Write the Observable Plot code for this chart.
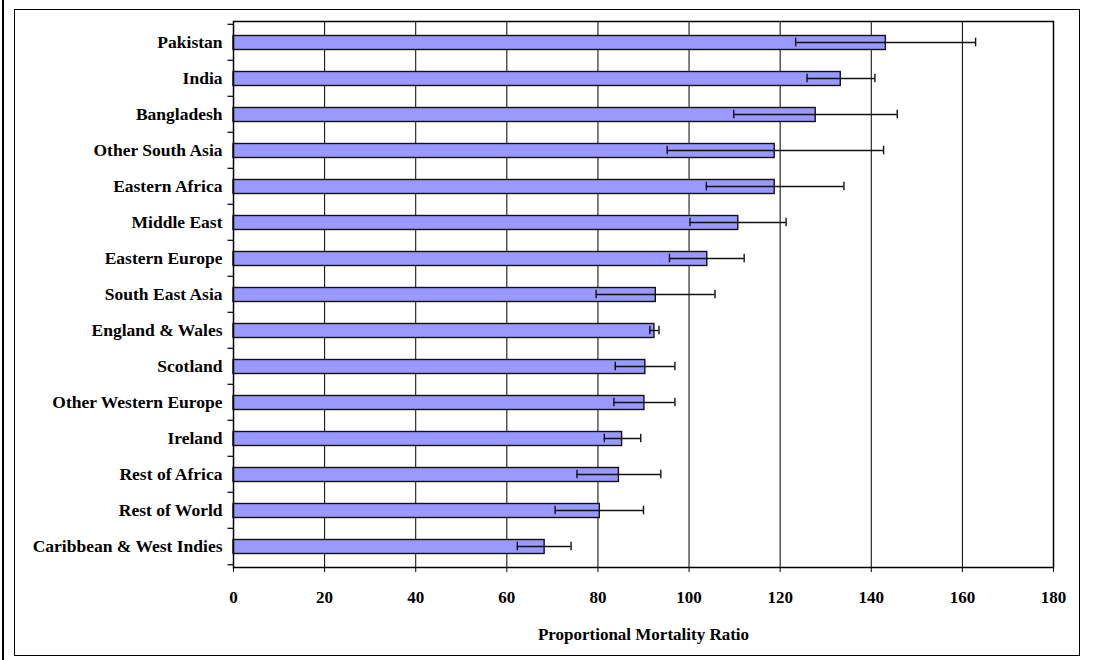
<!DOCTYPE html>
<html>
<head>
<meta charset="utf-8">
<script src="https://cdn.jsdelivr.net/npm/d3@7"></script>
<script src="https://cdn.jsdelivr.net/npm/@observablehq/plot@0.6"></script>
<style>
  html, body { margin: 0; padding: 0; background: #fff; }
  body { width: 1101px; height: 660px; position: relative; overflow: hidden; font-family: "Liberation Serif", "Times New Roman", serif; }
  #pageline { position: absolute; left: 2px; top: 0; width: 2px; height: 660px; background: #000; }
  #frame { position: absolute; left: 14px; top: 9px; width: 1066px; height: 647px; border: 1.5px solid #000; box-sizing: border-box; }
  #chart { position: absolute; left: 15px; top: 10px; }
  #chart svg { display: block; }
</style>
</head>
<body>
<div id="pageline"></div>
<div id="frame"></div>
<div id="chart"></div>
<script>
const regions = ["Pakistan", "India", "Bangladesh", "Other South Asia", "Eastern Africa", "Middle East", "Eastern Europe", "South East Asia", "England & Wales", "Scotland", "Other Western Europe", "Ireland", "Rest of Africa", "Rest of World", "Caribbean & West Indies"];
const pmr   = [143.2, 133.3, 127.8, 118.8, 118.8, 110.8, 104.0, 92.7, 92.4, 90.4, 90.2, 85.3, 84.6, 80.4, 68.3];
const lower = [123.4, 125.9, 109.8, 95.2, 103.8, 100.2, 95.7, 79.6, 91.4, 83.8, 83.5, 81.4, 75.4, 70.6, 62.3];
const upper = [162.9, 140.8, 145.7, 142.7, 134.0, 121.3, 112.1, 105.7, 93.4, 96.9, 96.9, 89.4, 93.8, 90.0, 74.1];
const xTicks = [0, 20, 40, 60, 80, 100, 120, 140, 160, 180];
const gridTicks = [20, 40, 60, 80, 100, 120, 140, 160];
const xLabel = "Proportional Mortality Ratio";

const data = regions.map((r, i) => ({region: r, pmr: pmr[i], lo: lower[i], hi: upper[i]}));

const W = 1066, H = 647;
const mL = 218, mR = 28, mT = 11, mB = 90;
const band = (H - mT - mB) / regions.length;
const halfBand = band / 2;
const serif = "'Liberation Serif', 'Times New Roman', serif";

const chart = Plot.plot({
  width: W,
  height: H,
  marginLeft: mL,
  marginRight: mR,
  marginTop: mT,
  marginBottom: mB,
  style: {fontFamily: serif, fontWeight: "bold", fontSize: "17px", color: "#000", background: "transparent"},
  x: {domain: [0, 180], ticks: xTicks},
  y: {domain: regions, padding: 0},
  marks: [
    Plot.ruleX(gridTicks, {stroke: "#000", strokeWidth: 1}),
    Plot.barX(data, {x: "pmr", y: "region", fill: "#9999ff", stroke: "#111", strokeWidth: 1.4, insetTop: 11.5, insetBottom: 10.5}),
    Plot.ruleY(data, {y: "region", x1: "lo", x2: "hi", stroke: "#111", strokeWidth: 1.4}),
    Plot.tickX(data, {x: "lo", y: "region", stroke: "#111", strokeWidth: 1.4, insetTop: halfBand - 4.5, insetBottom: halfBand - 4.5}),
    Plot.tickX(data, {x: "hi", y: "region", stroke: "#111", strokeWidth: 1.4, insetTop: halfBand - 4.5, insetBottom: halfBand - 4.5}),
    // category boundary ticks on the y axis
    Plot.ruleY(regions, {y: d => d, x1: -1.2, x2: 0, dy: -halfBand, stroke: "#000", strokeWidth: 1.2}),
    Plot.ruleY(regions.slice(-1), {y: d => d, x1: -1.2, x2: 0, dy: halfBand, stroke: "#000", strokeWidth: 1.2}),
    Plot.frame({stroke: "#000", strokeWidth: 1.5}),
    Plot.axisY({tickSize: 0, tickPadding: 11, label: null, fontSize: 17.5, fontWeight: "bold", fontFamily: serif}),
    Plot.axisX({ticks: xTicks, tickSize: 5, tickPadding: 18, label: null, fontSize: 17, fontWeight: "bold", fontFamily: serif, stroke: "#000"}),
    Plot.text([xLabel], {frameAnchor: "bottom", dy: 67, text: d => d, fontSize: 17, fontWeight: "bold", fontFamily: serif, fill: "#000", lineAnchor: "middle"})
  ]
});
document.getElementById("chart").appendChild(chart);
</script>
</body>
</html>
